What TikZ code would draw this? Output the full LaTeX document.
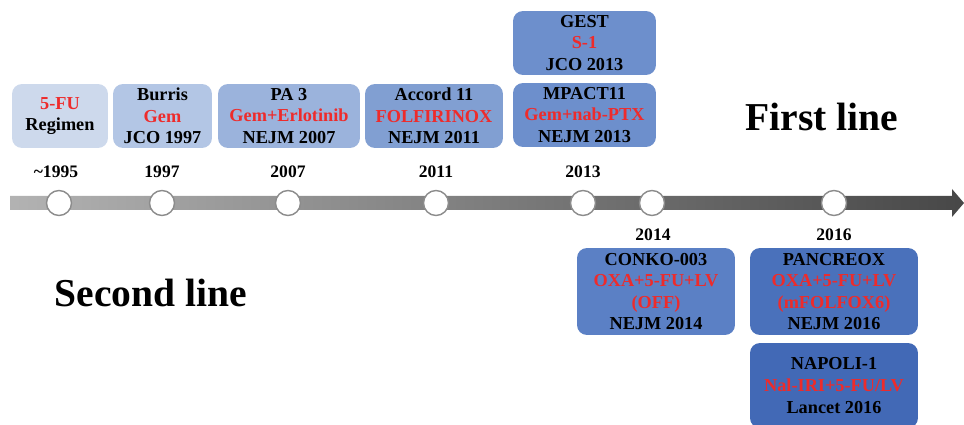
\documentclass[tikz,border=0pt]{standalone}
\usepackage{fontspec}
\setmainfont{Liberation Serif}
\usepackage{xcolor}
\usetikzlibrary{shapes,arrows,positioning}

\definecolor{boxA}{HTML}{CDD9EC}
\definecolor{boxB}{HTML}{B3C6E5}
\definecolor{boxC}{HTML}{9BB3DC}
\definecolor{boxD}{HTML}{819FD2}
\definecolor{boxE}{HTML}{6D8FCC}
\definecolor{boxF}{HTML}{5B80C5}
\definecolor{boxG}{HTML}{4A71BB}
\definecolor{boxH}{HTML}{4269B6}
\definecolor{drugred}{HTML}{EE2B2B}

\tikzset{
  trial/.style={rounded corners=0.2cm, align=center, inner sep=0pt,
    font=\fontsize{10.4}{12.3}\selectfont\bfseries},
  yearlbl/.style={font=\fontsize{10}{12}\selectfont\bfseries},
  dot/.style={circle, draw=gray!90, line width=0.8pt, fill=white,
    minimum size=0.5cm, inner sep=0pt},
  bigtitle/.style={font=\fontsize{22.5}{26}\selectfont\bfseries}
}
\newcommand{\drug}[1]{\textcolor{drugred}{#1}}

\begin{document}
\begin{tikzpicture}[x=0.02cm, y=-0.02cm]
\useasboundingbox (0,0) rectangle (964,425);
\clip (0,0) rectangle (964,425);
% Timeline bar with arrow head
\shade[left color=gray!60, right color=black!72]
  (10,196) -- (952,196) -- (952,189) -- (964,203) -- (952,217) -- (952,210) -- (10,210) -- cycle;
% Year dots
\node[dot] (t1) at (59,203) {};
\node[dot] (t2) at (162,203) {};
\node[dot] (t3) at (288,203) {};
\node[dot] (t4) at (436,203) {};
\node[dot] (t5) at (583,203) {};
\node[dot] (t6) at (652,203) {};
\node[dot] (t7) at (834,203) {};
% Year labels
\node[yearlbl] (y1) at (56,172) {\textasciitilde1995};
\node[yearlbl] (y2) at (162,172) {1997};
\node[yearlbl] (y3) at (288,172) {2007};
\node[yearlbl] (y4) at (436,172) {2011};
\node[yearlbl] (y5) at (583,172) {2013};
\node[yearlbl] (y6) at (653,235) {2014};
\node[yearlbl] (y7) at (834,235) {2016};
% First line trials
\node[trial, fill=boxA, minimum width=1.92cm, minimum height=1.28cm] (fu) at (60,116)
  {\drug{5-FU}\\Regimen};
\node[trial, fill=boxB, minimum width=1.98cm, minimum height=1.28cm] (burris) at (162.5,116)
  {Burris\\\drug{Gem}\\JCO 1997};
\node[trial, fill=boxC, minimum width=2.84cm, minimum height=1.28cm] (pa3) at (289,116)
  {PA 3\\\drug{Gem+Erlotinib}\\NEJM 2007};
\node[trial, fill=boxD, minimum width=2.76cm, minimum height=1.28cm] (accord) at (434,116)
  {Accord 11\\\drug{FOLFIRINOX}\\NEJM 2011};
\node[trial, fill=boxE, minimum width=2.86cm, minimum height=1.28cm] (mpact) at (584.5,115)
  {MPACT11\\\drug{Gem+nab-PTX}\\NEJM 2013};
\node[trial, fill=boxE, minimum width=2.86cm, minimum height=1.28cm] (gest) at (584.5,43)
  {GEST\\\drug{S-1}\\JCO 2013};
% Second line trials
\node[trial, fill=boxF, minimum width=3.16cm, minimum height=1.74cm] (conko) at (656,291.5)
  {CONKO-003\\\drug{OXA+5-FU+LV}\\\drug{(OFF)}\\NEJM 2014};
\node[trial, fill=boxG, minimum width=3.36cm, minimum height=1.74cm] (pancreox) at (834,291.5)
  {PANCREOX\\\drug{OXA+5-FU+LV}\\\drug{(mFOLFOX6)}\\NEJM 2016};
\node[trial, fill=boxH, minimum width=3.36cm, minimum height=1.70cm] (napoli) at (834,385.5)
  {NAPOLI-1\\\drug{Nal-IRI+5-FU/LV}\\Lancet 2016};
% Titles
\node[bigtitle] (first) at (822,117) {First line};
\node[bigtitle] (second) at (151,293) {Second line};
\end{tikzpicture}
\end{document}
